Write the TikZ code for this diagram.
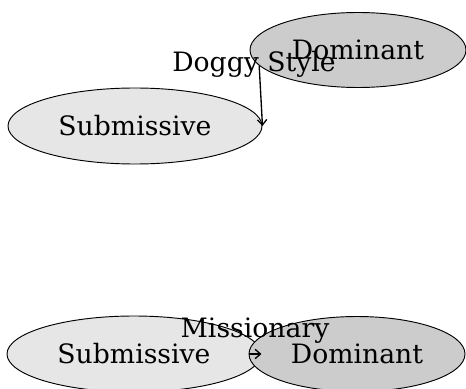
\documentclass[tikz,border=0pt]{standalone}
\usepackage{fontspec}
\setmainfont{DejaVu Serif}
\usetikzlibrary{shapes.geometric,arrows.meta}
\definecolor{subfill}{HTML}{E6E6E6}
\definecolor{domfill}{HTML}{CCCCCC}
\tikzset{
  ell/.style={ellipse, draw=black, line width=0.7pt, inner sep=0pt, font=\fontsize{20}{24}\selectfont},
  subnode/.style={ell, fill=subfill, minimum width=254*0.75pt, minimum height=76*0.75pt},
  domnode/.style={ell, fill=domfill, minimum width=216*0.75pt, minimum height=75*0.75pt},
  lbl/.style={inner sep=0pt, font=\fontsize{20}{24}\selectfont},
  conn/.style={draw=black, line width=1pt, -{Straight Barb[length=4pt,width=7pt]}}
}
\begin{document}
\begin{tikzpicture}[x=0.75pt,y=-0.75pt]
\useasboundingbox (0,0) rectangle (466,388);
\node[domnode] (dom1) at (358,50) {Dominant};
\node[subnode] (sub1) at (135,126) {Submissive};
\draw[conn] (dom1.189) -- (sub1.east);
\node[lbl] (l1) at (254,64) {Doggy Style};
\node[subnode] (sub2) at (134,354) {Submissive};
\node[domnode] (dom2) at (357,354) {Dominant};
\draw[conn] (dom2.west) -- (sub2.east);
\node[lbl] (l2) at (255,331) {Missionary};
\end{tikzpicture}
\end{document}
